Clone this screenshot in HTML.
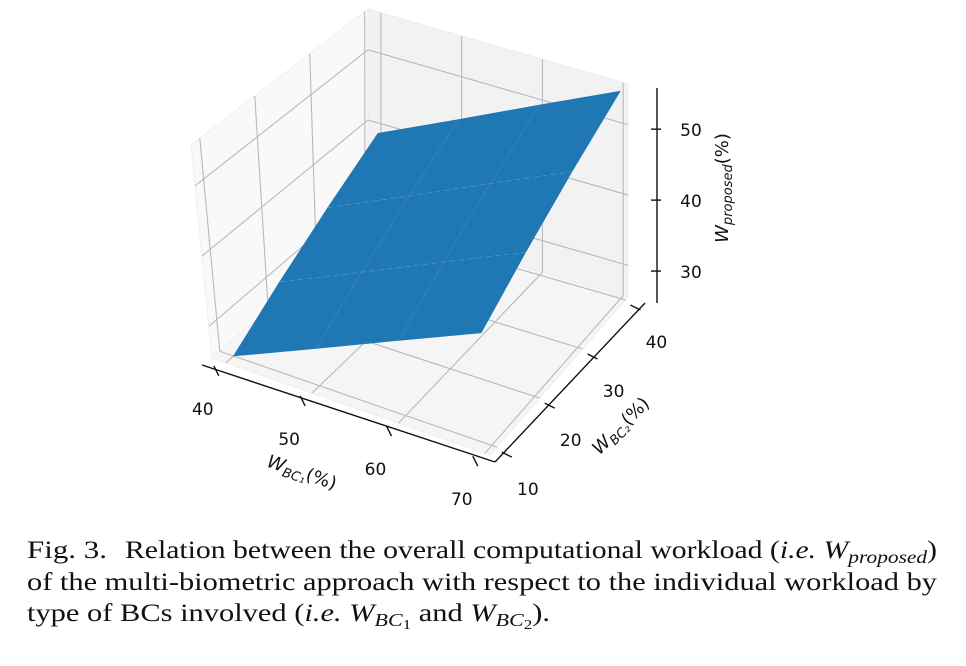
<!DOCTYPE html>
<html><head><meta charset="utf-8">
<style>
html,body{margin:0;padding:0;background:#fff;width:966px;height:666px;overflow:hidden;}
#chart{position:absolute;left:0;top:0;}
#caption{position:absolute;left:0;top:520px;}
</style></head><body>
<svg id="chart" width="966" height="520" xmlns="http://www.w3.org/2000/svg" font-family="DejaVu Sans, sans-serif"></svg>
<svg id="caption" width="966" height="146" xmlns="http://www.w3.org/2000/svg" style="font-family:'Liberation Serif',serif" font-size="25" fill="#111">
<text x="27" y="38" textLength="80" lengthAdjust="spacingAndGlyphs">Fig. 3.</text>
<text x="125" y="38" textLength="812" lengthAdjust="spacingAndGlyphs">Relation between the overall computational workload (<tspan font-style="italic">i.e. W</tspan><tspan font-style="italic" font-size="18" dy="5">proposed</tspan><tspan dy="-5">)</tspan></text>
<text x="27" y="70" textLength="910" lengthAdjust="spacingAndGlyphs">of the multi-biometric approach with respect to the individual workload by</text>
<text x="27" y="101" textLength="523" lengthAdjust="spacingAndGlyphs">type of BCs involved (<tspan font-style="italic">i.e. W</tspan><tspan font-style="italic" font-size="18" dy="5">BC</tspan><tspan font-size="14" dy="3">1</tspan><tspan dy="-8"> and </tspan><tspan font-style="italic">W</tspan><tspan font-style="italic" font-size="18" dy="5">BC</tspan><tspan font-size="14" dy="3">2</tspan><tspan dy="-8">).</tspan></text>
</svg>
<script>
const xValues = [40, 50, 60, 70];
const yValues = [10, 20, 30, 40];
const zGrid = [
  [25.5, 30.8, 36.2, 41.5],
  [30.0, 35.3, 40.7, 46.0],
  [34.5, 39.8, 45.2, 50.5],
  [39.0, 44.3, 49.7, 55.0]
];
const xTicks = [40, 50, 60, 70];
const yTicks = [10, 20, 30, 40];
const zTicks = [30, 40, 50];

const xlim=[38.4,70.6], ylim=[8.4,40.6], zlim=[25.5,55.8];
const NS="http://www.w3.org/2000/svg";
const svg=document.getElementById('chart');
function el(tag,attrs,parent){const e=document.createElementNS(NS,tag);for(const k in attrs)e.setAttribute(k,attrs[k]);(parent||svg).appendChild(e);return e;}
const F={fl:[212,358],fr:[490,455],br:[628,297],bl:[368,222]};
const H=213;
function floorPt(u,v){
  const x=F.fl[0]*(1-u)*(1-v)+F.fr[0]*u*(1-v)+F.br[0]*u*v+F.bl[0]*(1-u)*v;
  const y=F.fl[1]*(1-u)*(1-v)+F.fr[1]*u*(1-v)+F.br[1]*u*v+F.bl[1]*(1-u)*v;
  return [x,y];
}
function proj(x,y,z){
  const u=(x-xlim[0])/(xlim[1]-xlim[0]), v=(y-ylim[0])/(ylim[1]-ylim[0]), w=(z-zlim[0])/(zlim[1]-zlim[0]);
  const p=floorPt(u,v);
  const lean=-21*(1-v);
  return [p[0]+lean*w, p[1]-H*w];
}
function pts(a){return a.map(p=>p[0].toFixed(1)+','+p[1].toFixed(1)).join(' ');}
const X0=xlim[0],X1=xlim[1],Y0=ylim[0],Y1=ylim[1],Z0=zlim[0],Z1=zlim[1];
const paneL=el('polygon',{points:pts([proj(X0,Y0,Z0),proj(X0,Y1,Z0),proj(X0,Y1,Z1),proj(X0,Y0,Z1)]),fill:'#f9f9f9',stroke:'#f0f0f0'});

const paneB=el('polygon',{points:pts([proj(X0,Y1,Z0),proj(X1,Y1,Z0),proj(X1,Y1,Z1),proj(X0,Y1,Z1)]),fill:'#f2f2f2',stroke:'#ececec'});

const paneF=el('polygon',{points:pts([proj(X0,Y0,Z0),proj(X1,Y0,Z0),proj(X1,Y1,Z0),proj(X0,Y1,Z0)]),fill:'#f5f5f5',stroke:'#eeeeee'});

const gs={stroke:'#b8b8b8','stroke-width':1.1,fill:'none'};
function line(a,b,st){return el('line',Object.assign({x1:a[0],y1:a[1],x2:b[0],y2:b[1]},st));}
xTicks.forEach(t=>{
  const g1=line(proj(t,Y0,Z0),proj(t,Y1,Z0),gs);
  const g2=line(proj(t,Y1,Z0),proj(t,Y1,Z1),gs);
});
yTicks.forEach(t=>{
  const g1=line(proj(X0,t,Z0),proj(X1,t,Z0),gs);
  const g2=line(proj(X0,t,Z0),proj(X0,t,Z1),gs);
});
zTicks.forEach(t=>{
  const g1=line(proj(X0,Y0,t),proj(X0,Y1,t),gs);
  const g2=line(proj(X0,Y1,t),proj(X1,Y1,t),gs);
});
for(let j=yValues.length-2;j>=0;j--){
  for(let i=0;i<xValues.length-1;i++){
    const q=[proj(xValues[i],yValues[j],zGrid[j][i]),proj(xValues[i+1],yValues[j],zGrid[j][i+1]),proj(xValues[i+1],yValues[j+1],zGrid[j+1][i+1]),proj(xValues[i],yValues[j+1],zGrid[j+1][i])];
    const p=el('polygon',{points:pts(q),fill:'#1f77b4',stroke:'#1f77b4','stroke-width':0.6});
    
    
  }
}
for(let j=1;j<yValues.length-1;j++){
  const a=[];for(let i=0;i<xValues.length;i++)a.push(proj(xValues[i],yValues[j],zGrid[j][i]));
  const m=el('polyline',{points:pts(a),fill:'none',stroke:'#5a9bd0','stroke-width':0.6,'stroke-dasharray':'6,3'});
  
}
for(let i=1;i<xValues.length-1;i++){
  const a=[];for(let j=0;j<yValues.length;j++)a.push(proj(xValues[i],yValues[j],zGrid[j][i]));
  const m=el('polyline',{points:pts(a),fill:'none',stroke:'#4c92cb','stroke-width':0.5});
  
}
const ax={stroke:'#111','stroke-width':1.4};
function shift(p,d){return [p[0]+d[0],p[1]+d[1]];}
const xa=line(shift(proj(X0,Y0,Z0),[-10,7]),shift(proj(X1,Y0,Z0),[5,7]),ax);
const ya=line(shift(proj(X1,Y0,Z0),[5,7]),shift(proj(X1,Y1,Z0),[17,6]),ax);
const za=line([657,303],[657,88],ax);
const ts={'font-size':'17px',fill:'#111','text-anchor':'middle'};
xTicks.forEach(t=>{
  const p=shift(proj(t,Y0,Z0),[-10,7]);
  const tk=line([p[0]-2,p[1]-4],[p[0]+3,p[1]+6],ax);
  const tx=el('text',Object.assign({x:p[0]-13,y:p[1]+45},ts));tx.textContent=t;
  
});
yTicks.forEach(t=>{
  const p=shift(proj(X1,t,Z0),[9,7]);
  const tk=line([p[0]-4,p[1]-2],[p[0]+6,p[1]+3],ax);
  const tx=el('text',Object.assign({x:p[0]+22,y:p[1]+41},ts));tx.textContent=t;
  
});
zTicks.forEach(t=>{
  const y=303-(t-zlim[0])/(zlim[1]-zlim[0])*215;
  const tk=line([651,y],[661,y],ax);
  const tx=el('text',Object.assign({x:691,y:y+7},ts));tx.textContent=t;
  
});
function title(x,y,rot,main,sub,name){
  const t=el('text',{x:x,y:y,'font-size':'18px',fill:'#111','text-anchor':'middle',transform:`rotate(${rot} ${x} ${y})`});
  
  const a=el('tspan',{'font-style':'italic'},t);a.textContent='W';
  const b=el('tspan',{'font-style':'italic','font-size':'13px',dy:'4'},t);b.textContent=sub;
  const c=el('tspan',{dy:'-4'},t);c.textContent=main;
  return t;
}
title(300,478,19,'(%)','BC\u2081','x-axis-title');
title(625,430,-45,'(%)','BC\u2082','y-axis-title');
title(728,188,-90,'(%)','proposed','z-axis-title');
</script>
</body></html>
